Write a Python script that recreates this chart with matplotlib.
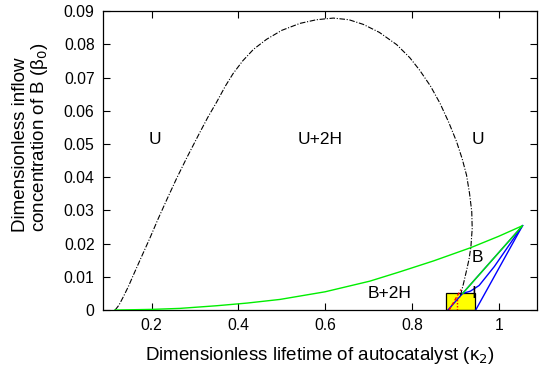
import matplotlib
matplotlib.use("Agg")
import matplotlib.pyplot as plt
from matplotlib.patches import Rectangle

plt.rcParams['font.family'] = ['Liberation Sans', 'DejaVu Sans']

# Hopf bifurcation curve (dash-dot)
kappa_hopf = [0.116, 0.125, 0.135, 0.147, 0.158, 0.175, 0.196, 0.215, 0.235, 0.258,
              0.281, 0.311, 0.330, 0.350, 0.370, 0.388, 0.410, 0.435, 0.465, 0.500,
              0.542, 0.580, 0.619, 0.655, 0.688, 0.725, 0.765, 0.795, 0.818, 0.843,
              0.865, 0.885, 0.903, 0.916, 0.926, 0.933, 0.938, 0.939, 0.936, 0.932,
              0.927, 0.919, 0.911]
beta_hopf = [0.0, 0.0015, 0.0040, 0.0072, 0.0105, 0.0155, 0.0216, 0.0274, 0.0332, 0.0397,
             0.0458, 0.0534, 0.0581, 0.0626, 0.0674, 0.0712, 0.0750, 0.0785, 0.0815, 0.0842,
             0.0863, 0.0874, 0.0879, 0.0874, 0.0860, 0.0836, 0.0799, 0.0760, 0.0722, 0.0674,
             0.0622, 0.0565, 0.0507, 0.0455, 0.0406, 0.0350, 0.0296, 0.0245, 0.0190, 0.0155,
             0.0125, 0.0080, 0.0039]

# Saddle-node curve (green): upper branch up to the cusp, then the return branch
kappa_sn = [0.115, 0.2, 0.265, 0.35, 0.42, 0.496, 0.6, 0.703, 0.772, 0.85, 0.936, 1.0,
            1.055, 0.917]
beta_sn = [0.0, 0.0002, 0.0005, 0.0013, 0.0021, 0.0032, 0.0055, 0.0087, 0.0115, 0.0148,
           0.0188, 0.0222, 0.0254, 0.0050]

# Blue branches leaving the cusp
kappa_b1 = [1.055, 0.883]
beta_b1 = [0.0254, 0.0]
kappa_b2 = [1.055, 0.990, 0.955, 0.935, 0.917]
beta_b2 = [0.0254, 0.0131, 0.0074, 0.0057, 0.0050]
kappa_b3 = [1.055, 0.947]
beta_b3 = [0.0254, 0.0]

# Red branches inside the highlighted region
kappa_red = [0.886, 0.913]
beta_red = [0.0, 0.0062]
kappa_red_dot = [0.904, 0.904]
beta_red_dot = [0.0, 0.0038]

# Highlighted region
box_kappa = [0.878, 0.945]
box_beta = [0.0, 0.005]

region_labels = ["U", "U+2H", "U", "B", "B+2H", "I"]
label_kappa = [0.208, 0.588, 0.952, 0.952, 0.749, 0.943]
label_beta = [0.0512, 0.0512, 0.0512, 0.0157, 0.0051, 0.0051]

xticks = [0.2, 0.4, 0.6, 0.8, 1.0]
xtick_labels = ["0.2", "0.4", "0.6", "0.8", "1"]
yticks = [0, 0.01, 0.02, 0.03, 0.04, 0.05, 0.06, 0.07, 0.08, 0.09]
ytick_labels = ["0", "0.01", "0.02", "0.03", "0.04", "0.05", "0.06", "0.07", "0.08", "0.09"]

fig = plt.figure(figsize=(5.39, 3.70), dpi=100)
ax = fig.add_axes([0.191, 0.162, 0.805, 0.808])

ax.add_patch(Rectangle((box_kappa[0], box_beta[0]), box_kappa[1] - box_kappa[0],
                       box_beta[1] - box_beta[0], facecolor="#ffff00",
                       edgecolor="black", lw=0.9, zorder=1))

ax.plot(kappa_hopf, beta_hopf, color="black", lw=0.8, ls=(0, (5, 1.5, 1, 1.5)), zorder=3)
ax.plot(kappa_b1, beta_b1, color="#0000ff", lw=1.0, zorder=2)
ax.plot(kappa_b2, beta_b2, color="#0000ff", lw=1.0, zorder=2)
ax.plot(kappa_b3, beta_b3, color="#0000ff", lw=1.0, zorder=2)
ax.plot(kappa_sn, beta_sn, color="#00ee00", lw=1.0, zorder=3)
ax.plot(kappa_red, beta_red, color="#ff0000", lw=1.0, ls=(0, (2.5, 1.5)), zorder=4)
ax.plot(kappa_red_dot, beta_red_dot, color="#ff0000", lw=1.0, ls=(0, (1, 1.2)), zorder=4)

for txt, kx, by in zip(region_labels, label_kappa, label_beta):
    ax.text(kx, by, txt, fontsize=12.5, ha="center", va="center", zorder=5)

ax.set_xlim(0.088, 1.088)
ax.set_ylim(0, 0.09)
ax.set_xticks(xticks)
ax.set_xticklabels(xtick_labels)
ax.set_yticks(yticks)
ax.set_yticklabels(ytick_labels)
ax.tick_params(direction="in", top=True, right=True, length=5, width=0.8,
               labelsize=11.3, pad=6)
for s in ax.spines.values():
    s.set_linewidth(0.9)

ax.set_xlabel("Dimensionless lifetime of autocatalyst (\u03ba$_2$)", fontsize=13.5,
              labelpad=8)
fig.text(0.0575, 1 - 232 / 370, "Dimensionless inflow\nconcentration of B (\u03b2$_0$)",
         rotation=90, fontsize=13.5, ha="center", va="bottom", multialignment="left",
         linespacing=1.05)

fig.savefig("out.png", dpi=100)
